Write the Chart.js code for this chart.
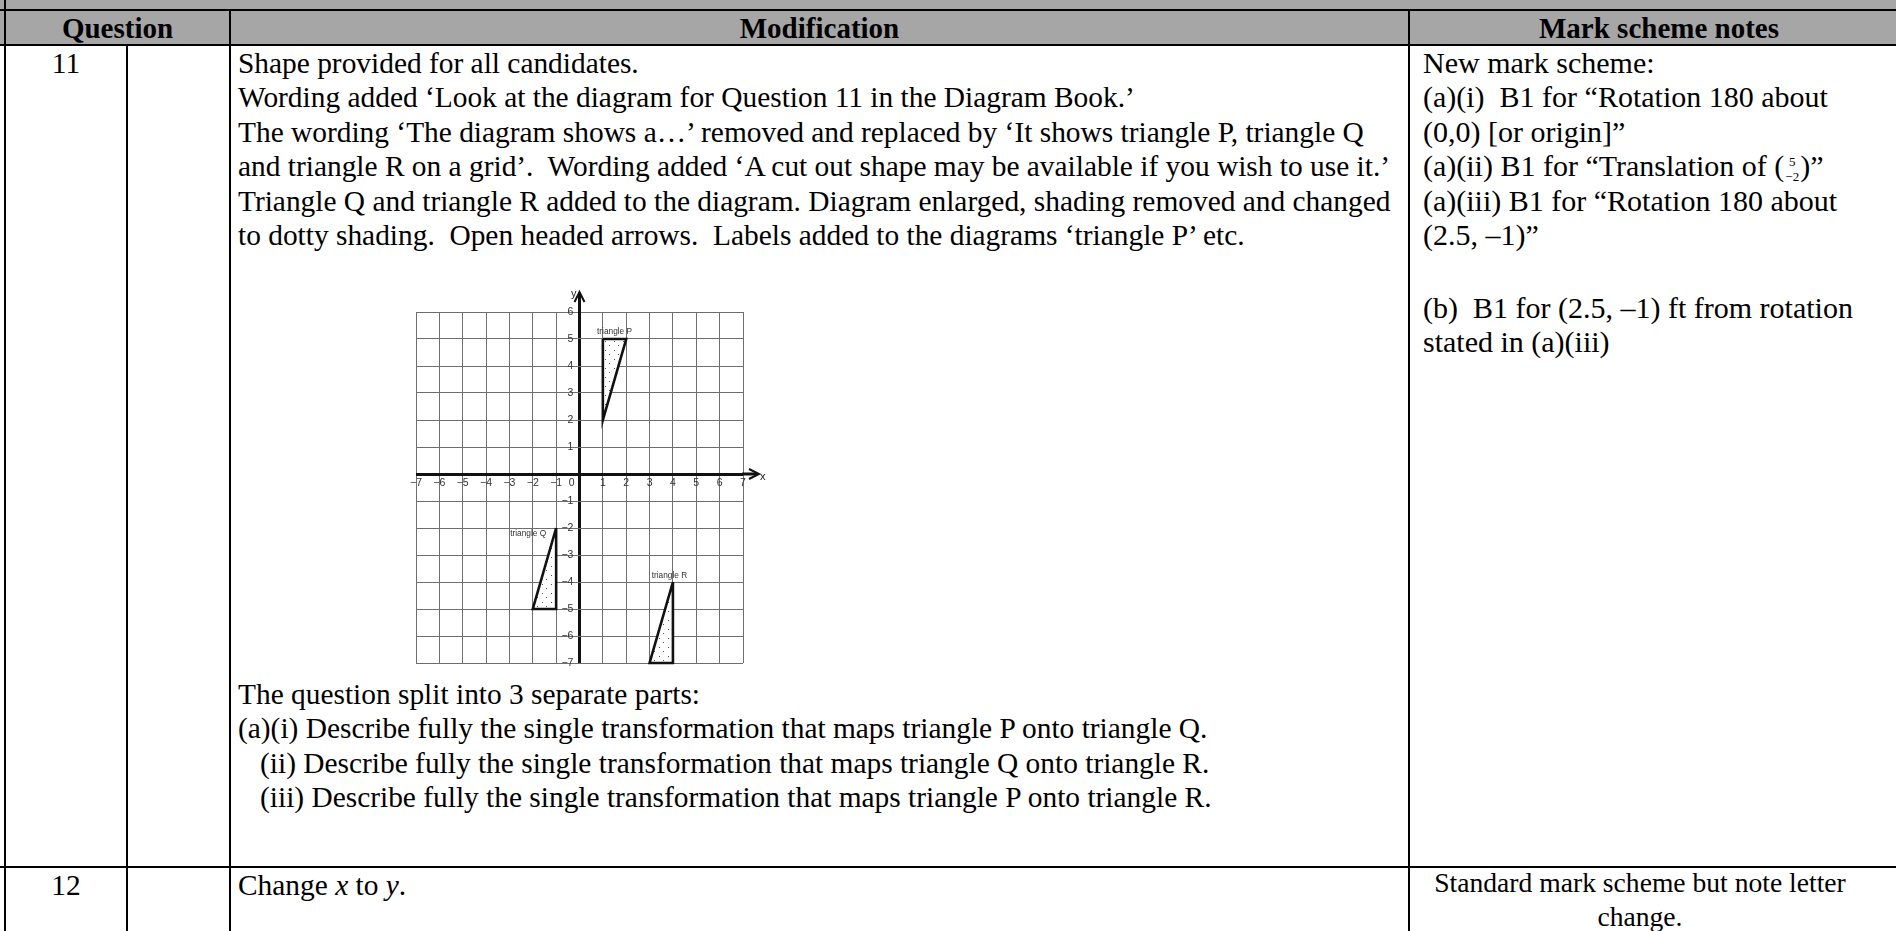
<!DOCTYPE html>
<html><head><meta charset="utf-8">
<script src="https://cdn.jsdelivr.net/npm/chart.js@4.4.0/dist/chart.umd.min.js"></script>
<style>
html,body{margin:0;padding:0;background:#fff;width:1896px;height:931px;overflow:hidden;}
body{position:relative;font-family:"Liberation Serif","Times New Roman",serif;font-size:29.4px;color:#000;}
.abs{position:absolute;}
.hl{position:absolute;background:#000;height:2px;}
.vl{position:absolute;background:#000;width:2px;}
.txt{position:absolute;white-space:pre;line-height:34.4px;}
.lines{position:absolute;white-space:normal;line-height:34.4px;}
.lines div{height:34.4px;white-space:pre;}
.b{font-weight:bold;font-size:29px;}
.c3{font-size:30px;}
.vec{display:inline-block;vertical-align:middle;text-align:center;font-size:13px;line-height:15px;margin:0 1px;}
.vec span{display:block;}
.par{font-size:30px;}
</style></head><body>
<div class="abs" style="left:0;top:0;width:1896px;height:45px;background:#a6a6a6"></div>
<div class="hl" style="left:0;top:9px;width:1896px"></div>
<div class="hl" style="left:0;top:44px;width:1896px"></div>
<div class="hl" style="left:0;top:866px;width:1896px"></div>
<div class="vl" style="left:4px;top:0;height:931px"></div>
<div class="vl" style="left:126px;top:45px;height:886px"></div>
<div class="vl" style="left:229px;top:10px;height:921px"></div>
<div class="vl" style="left:1408px;top:10px;height:921px"></div>

<div class="txt b" style="left:6px;width:223px;top:11px;line-height:34px;text-align:center">Question</div>
<div class="txt b" style="left:231px;width:1177px;top:11px;line-height:34px;text-align:center">Modification</div>
<div class="txt b" style="left:1420px;width:478px;top:11px;line-height:34px;text-align:center">Mark scheme notes</div>

<div class="txt" style="left:6px;width:120px;top:46px;text-align:center">11</div>
<div class="txt" style="left:238px;top:46px">Shape provided for all candidates.
Wording added ‘Look at the diagram for Question 11 in the Diagram Book.’
The wording ‘The diagram shows a…’ removed and replaced by ‘It shows triangle P, triangle Q
and triangle R on a grid’.  Wording added ‘A cut out shape may be available if you wish to use it.’
Triangle Q and triangle R added to the diagram. Diagram enlarged, shading removed and changed
to dotty shading.  Open headed arrows.  Labels added to the diagrams ‘triangle P’ etc.</div>

<div class="abs" style="left:396px;top:276px;width:410px;height:400px"><canvas id="c"></canvas></div>

<div class="txt" style="left:238px;top:677px">The question split into 3 separate parts:
(a)(i) Describe fully the single transformation that maps triangle P onto triangle Q.
   (ii) Describe fully the single transformation that maps triangle Q onto triangle R.
   (iii) Describe fully the single transformation that maps triangle P onto triangle R.</div>

<div class="lines c3" style="left:1423px;top:46px">
<div>New mark scheme:</div>
<div>(a)(i)  B1 for “Rotation 180 about</div>
<div>(0,0) [or origin]”</div>
<div><span>(a)(ii) B1 for “Translation of </span><span class="par">(</span><span class="vec"><span>5</span><span>−2</span></span><span class="par">)</span><span>”</span></div>
<div>(a)(iii) B1 for “Rotation 180 about</div>
<div>(2.5, –1)”</div>
</div>
<div class="txt c3" style="left:1423px;top:291px">(b)  B1 for (2.5, –1) ft from rotation
stated in (a)(iii)</div>

<div class="txt" style="left:6px;width:120px;top:868px;text-align:center">12</div>
<div class="txt" style="left:238px;top:868px">Change <i>x</i> to <i>y</i>.</div>
<div class="txt" style="left:1412px;width:456px;top:866px;text-align:center;font-size:27.6px;line-height:34px">Standard mark scheme but note letter
change.</div>

<script>
// ---- data ----
const xTickLabels = ['−7','−6','−5','−4','−3','−2','−1','0','1','2','3','4','5','6','7'];
const yTickLabels = ['−7','−6','−5','−4','−3','−2','−1','','1','2','3','4','5','6'];
const xMin = -7, xMax = 7, yMin = -7, yMax = 6;
const triangleNames = ['triangle P','triangle Q','triangle R'];
const triPx = [1, 2, 1, 1];
const triPy = [5, 5, 2, 5];
const triQx = [-1, -1, -2, -1];
const triQy = [-2, -5, -5, -2];
const triRx = [4, 4, 3, 4];
const triRy = [-4, -7, -7, -4];
const labelX = [1.5, -2.2, 3.85];
const labelY = [5.28, -2.2, -3.75];

function pts(xs, ys){ return xs.map((x,i)=>({x:x, y:ys[i]})); }

const pc = document.createElement('canvas'); pc.width = 9; pc.height = 9;
const pg = pc.getContext('2d');
pg.fillStyle = '#fff'; pg.fillRect(0,0,9,9);
pg.fillStyle = '#555'; pg.fillRect(2,2,1,1); pg.fillRect(6,6,1,1);
const dotPattern = pg.createPattern(pc, 'repeat');

function triDs(xs, ys){
  return {data: pts(xs, ys), showLine:true, fill:'shape', backgroundColor: dotPattern,
    borderColor:'#111', borderWidth:2.6, pointRadius:0, tension:0, clip:6, borderJoinStyle:'miter'};
}

const extras = {
  id:'extras',
  afterDatasetsDraw(chart){
    const {ctx, scales:{x, y}} = chart;
    const ox = x.getPixelForValue(0), oy = y.getPixelForValue(0);
    const xr = x.getPixelForValue(xMax), yt = y.getPixelForValue(yMax);
    ctx.save();
    ctx.strokeStyle = '#111'; ctx.lineWidth = 3;
    ctx.beginPath(); ctx.moveTo(xr-1, oy); ctx.lineTo(xr+14, oy); ctx.stroke();
    ctx.beginPath(); ctx.moveTo(ox, yt+1); ctx.lineTo(ox, yt-18); ctx.stroke();
    ctx.lineWidth = 2;
    ctx.beginPath(); ctx.moveTo(xr+6, oy-5); ctx.lineTo(xr+16, oy); ctx.lineTo(xr+6, oy+5); ctx.stroke();
    ctx.beginPath(); ctx.moveTo(ox-5, yt-10); ctx.lineTo(ox, yt-20); ctx.lineTo(ox+5, yt-10); ctx.stroke();
    ctx.fillStyle = '#222';
    ctx.font = '11px "Liberation Sans", Arial, sans-serif';
    ctx.textAlign = 'left'; ctx.textBaseline = 'middle';
    ctx.fillText('x', xr+17, oy+3);
    ctx.textAlign = 'right';
    ctx.fillText('y', ox-3, yt-18);
    ctx.font = '8.3px "Liberation Sans", Arial, sans-serif';
    ctx.textAlign = 'center'; ctx.fillStyle = '#333';
    triangleNames.forEach((n,i)=>{
      ctx.fillText(n, x.getPixelForValue(labelX[i]), y.getPixelForValue(labelY[i]));
    });
    ctx.restore();
  }
};

new Chart(document.getElementById('c'), {
  type:'scatter',
  data:{datasets:[triDs(triPx,triPy), triDs(triQx,triQy), triDs(triRx,triRy)]},
  options:{
    responsive:true, maintainAspectRatio:false, animation:false,
    layout:{padding:{left:20, right:63, top:36, bottom:13}},
    plugins:{legend:{display:false}, tooltip:{enabled:false}},
    scales:{
      x:{type:'linear', min:xMin, max:xMax, position:{y:0},
        border:{display:false},
        grid:{color:(c)=>c.tick && c.tick.value===0 ? '#111' : '#6f6f6f',
              lineWidth:(c)=>c.tick && c.tick.value===0 ? 3 : 1, drawTicks:false},
        ticks:{stepSize:1, autoSkip:false, maxRotation:0, padding:3, color:'#333',
          font:{family:'"Liberation Sans", Arial, sans-serif', size:10.5},
          callback:(v,i)=>{ const s = xTickLabels[i]; return s==='0' ? '0\u2003\u2002' : s; }}
      },
      y:{type:'linear', min:yMin, max:yMax, position:{x:0},
        border:{display:false},
        grid:{color:(c)=>c.tick && c.tick.value===0 ? '#111' : '#6f6f6f',
              lineWidth:(c)=>c.tick && c.tick.value===0 ? 3 : 1, drawTicks:false},
        ticks:{stepSize:1, autoSkip:false, padding:4, color:'#333',
          font:{family:'"Liberation Sans", Arial, sans-serif', size:10.5},
          callback:(v,i)=>{ const s = yTickLabels[i]; return s ? s + '\u2002\u200a' : ''; }}
      }
    }
  },
  plugins:[extras]
});
</script>
</body></html>
